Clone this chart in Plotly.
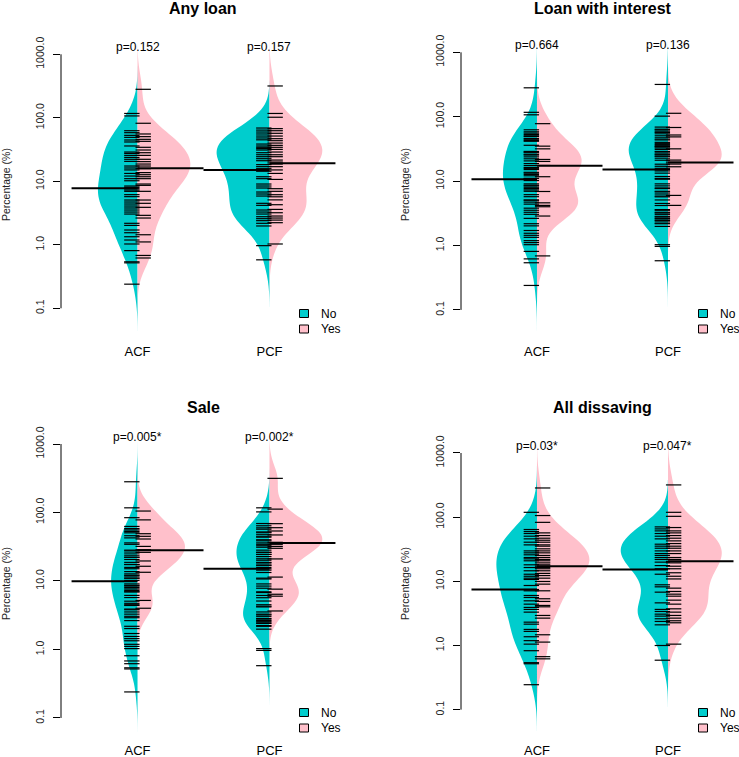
import numpy as np
import plotly.graph_objects as go

# ---------------- data (percentages) ----------------
panel_titles = ["Any loan", "Loan with interest", "Sale", "All dissaving"]
sites = ["ACF", "PCF"]
groups = ["No", "Yes"]
p_values = [["p=0.152", "p=0.157"], ["p=0.664", "p=0.136"],
            ["p=0.005*", "p=0.002*"], ["p=0.03*", "p=0.047*"]]
y_tick_vals = [0.1, 1.0, 10.0, 100.0, 1000.0]
y_tick_text = ["0.1", "1.0", "10.0", "100.0", "1000.0"]

any_loan_acf_no = [117, 107, 62.6, 58.3, 52.9, 49.2, 44.7, 41.6, 36.0, 28.9, 27.5, 25.6, 23.8, 22.2,
                   20.6, 17.4, 16.2, 15.1, 13.3, 12.1, 11.0, 10.2, 8.43, 8.03, 7.65, 7.29, 6.95, 6.16,
                   5.73, 5.07, 4.72, 4.39, 4.08, 3.80, 3.53, 3.28, 3.05, 2.18, 2.02, 1.71, 1.55, 1.34,
                   1.19, 1.03, 0.81, 0.54, 0.52, 0.24]
any_loan_acf_yes = [281, 82, 55.6, 50.5, 45.8, 42.6, 34.3, 31.1, 28.2, 25.6, 22.2, 20.4, 18.7, 17.4,
                    15.8, 13.7, 12.7, 11.8, 11.0, 9.06, 8.63, 6.95, 5.07, 4.50, 3.89, 2.91, 2.64,
                    1.44, 1.11, 0.68, 0.62]
any_loan_pcf_no = [69, 64, 59.7, 55.6, 51.6, 48.1, 45, 38.6, 36.0, 34.3, 32.7, 31.1, 28.2, 26.2, 24.4,
                   22.7, 21.1, 18.3, 17.0, 15.8, 14.4, 11.8, 11.0, 9.06, 8.43, 7.84, 6.78, 6.31, 5.86,
                   4.5, 4.18, 3.53, 3.28, 3.05, 2.77, 2.58, 2.40, 2.18, 1.98, 0.97, 0.58]
any_loan_pcf_yes = [317, 117, 102, 67.5, 62.6, 57, 51.6, 46.9, 43.6, 40, 36.8, 34.3, 31.8, 28.9, 26.2,
                    24.4, 21.6, 20.1, 18.7, 17.0, 15.1, 13.3, 10.7, 7.65, 6.95, 6.15, 5.7, 5.1, 4.28,
                    3.61, 3.2, 2.84, 2.64, 2.45, 2.23, 1.03]

interest_acf_no = [281, 117, 107, 62.6, 58.3, 55.6, 52.9, 50.5, 49.2, 45.8, 44.7, 42.6, 41.6, 36.0,
                   28.9, 28.2, 27.5, 25.6, 25.6, 23.8, 22.2, 20.6, 18.7, 17.4, 16.2, 15.8, 15.1, 13.7,
                   13.3, 12.7, 12.1, 11.0, 11.0, 10.2, 9.06, 8.63, 8.43, 8.03, 7.65, 7.29, 6.95, 6.16,
                   5.73, 5.07, 5.07, 4.72, 4.39, 3.80, 3.53, 3.28, 3.05, 2.64, 2.18, 2.02, 1.71, 1.55,
                   1.44, 1.34, 1.19, 1.11, 1.03, 0.81, 0.62, 0.54, 0.24]
interest_acf_yes = [78, 34.9, 31.7, 21.7, 20.2, 17.5, 11.7, 6.9, 4.6, 4.2, 4.0, 2.87, 0.69]
interest_pcf_no = [317, 102, 69, 64, 62.6, 59.7, 57, 55.6, 51.6, 48.1, 45, 43.6, 40, 38.6, 36.8, 36.0,
                   34.3, 34.3, 32.7, 31.1, 28.9, 28.2, 26.2, 26.2, 24.4, 24.4, 22.7, 21.1, 18.3, 17.0,
                   15.8, 15.1, 14.4, 13.3, 11.8, 11.0, 10.7, 9.06, 8.43, 7.84, 7.65, 6.95, 6.78, 6.31,
                   5.86, 5.7, 5.1, 4.5, 4.18, 3.61, 3.53, 3.28, 3.2, 3.05, 2.84, 2.77, 2.64, 2.58,
                   2.45, 2.40, 2.23, 2.18, 1.98, 1.03, 0.97, 0.58]
interest_pcf_yes = [113, 68, 52, 48.6, 31.7, 21.2, 19.7, 18.4, 16.7, 6.0, 4.2]

sale_acf_no = [281, 117, 84, 62.6, 58.3, 55.6, 52.9, 50.5, 45.8, 42.6, 36.0, 34.3, 28.2, 27.5, 25.6,
               23.8, 22.2, 22.2, 20.6, 18.7, 17.4, 17.4, 15.8, 15.1, 13.7, 12.7, 12.1, 11.8, 11.0,
               11.0, 10.2, 9.06, 8.63, 8.43, 8.03, 7.65, 7.29, 6.95, 6.95, 6.16, 5.73, 5.07, 4.72,
               4.50, 4.39, 3.89, 3.80, 3.53, 3.28, 3.05, 2.91, 2.64, 2.18, 2.02, 1.71, 1.55, 1.44,
               1.34, 1.19, 1.11, 1.03, 0.81, 0.68, 0.62, 0.54, 0.52, 0.24]
sale_acf_yes = [105, 78, 49, 44.9, 41, 32, 28.6, 26.2, 19.6, 16.4, 13.4, 5.2, 4.0]
sale_pcf_no = [117, 102, 69, 64, 59.7, 57, 51.6, 51.6, 48.1, 45, 43.6, 40, 38.6, 36.0, 34.3, 32.7,
               31.1, 28.2, 26.2, 26.2, 24.4, 24.4, 22.7, 21.1, 20.1, 18.7, 18.3, 17.0, 17.0, 15.8,
               15.1, 14.4, 13.3, 11.0, 10.7, 9.06, 8.43, 7.84, 6.95, 6.78, 6.15, 5.7, 5.1, 4.5, 4.28,
               4.18, 3.53, 3.28, 3.2, 3.05, 2.84, 2.77, 2.64, 2.58, 2.45, 2.40, 2.23, 2.18, 1.98,
               1.03, 0.97, 0.58]
sale_pcf_yes = [315, 112, 68.7, 60, 53.7, 47, 36.7, 34.3, 32, 30, 21, 11.4, 7.6, 6.4, 6.0, 3.65]

dissaving_acf_no = [119, 64.2, 59.7, 55.6, 50.5, 45.9, 40.7, 37.0, 29.8, 27.8, 25.9, 23.5, 22.4, 20.9,
                    18.1, 16.4, 14.6, 12.9, 12.0, 11.2, 10.7, 8.61, 7.46, 7.12, 6.02, 5.6, 4.97, 4.41,
                    3.92, 3.65, 3.31, 2.31, 2.15, 1.78, 1.66, 1.37, 1.19, 1.05, 0.83, 0.54, 0.52, 0.245]
dissaving_acf_yes = [285, 106, 83, 56.9, 51.7, 47.0, 43.7, 40.7, 37.0, 35.3, 32.1, 29.8, 27.8, 25.3,
                     23.5, 21.9, 20.9, 19.4, 18.1, 17.2, 16.4, 15.7, 14.6, 13.3, 12.3, 11.2, 9.95,
                     9.04, 7.12, 5.35, 4.86, 4.21, 4.01, 2.94, 2.67, 1.47, 1.13, 0.67, 0.62]
dissaving_pcf_no = [70.5, 65.6, 61.1, 55.6, 50.5, 45.9, 37.9, 35.3, 32.8, 29.8, 27.1, 25.3, 23.5, 21.9,
                    19.9, 17.6, 15.7, 12.9, 8.83, 8.21, 6.78, 4.62, 3.65, 3.39, 3.08, 2.87, 2.61,
                    2.37, 2.10, 1.0, 0.59]
dissaving_pcf_yes = [318, 119, 103, 68.9, 61.1, 56.9, 51.7, 47.0, 42.7, 38.8, 35.3, 32.8, 29.8, 27.1,
                     23.5, 21.9, 20.4, 19.4, 17.2, 15.7, 13.6, 12.0, 10.9, 7.83, 6.95, 6.31, 5.87,
                     5.09, 4.41, 3.73, 3.31, 2.94, 2.67, 2.43, 2.26, 1.05]

# bean lines (group averages): [ACF No, ACF Yes, PCF No, PCF Yes]
any_loan_means = [7.8, 16.0, 15.1, 19.2]
interest_means = [10.7, 17.3, 15.2, 19.5]
sale_means = [9.9, 28.0, 15.1, 35.9]
dissaving_means = [7.45, 17.2, 15.3, 20.6]

panel_data = [
    [[any_loan_acf_no, any_loan_acf_yes], [any_loan_pcf_no, any_loan_pcf_yes]],
    [[interest_acf_no, interest_acf_yes], [interest_pcf_no, interest_pcf_yes]],
    [[sale_acf_no, sale_acf_yes], [sale_pcf_no, sale_pcf_yes]],
    [[dissaving_acf_no, dissaving_acf_yes], [dissaving_pcf_no, dissaving_pcf_yes]],
]
panel_means = [any_loan_means, interest_means, sale_means, dissaving_means]

# ---------------- style / geometry (page pixels) ----------------
FW, FH = 739, 757
TEAL, PINK = "#00CDCD", "#FFC0CB"
FONT = "Liberation Sans, Arial, Helvetica, sans-serif"
bandwidths = [0.25, 0.24, 0.195, 0.245]                 # log10 units
half_widths = [[0.30, 0.40, 0.40, 0.40], [0.26, 0.34, 0.30, 0.41],
               [0.20, 0.36, 0.25, 0.40], [0.31, 0.40, 0.36, 0.41]]
col_px = [(61, 346, [0.42, 2.58]), (461, 739, [0.42, 2.542])]
row_px = [(40, 340), (439, 739)]
y_ranges = [[-1.499, 3.225], [-1.467, 3.191], [-1.307, 3.073], [-1.457, 3.218]]
title_px = [(203.5, 9), (602.5, 9), (203.5, 407), (602.5, 407)]
ylab_px = [(6, 185), (405, 185), (6, 584), (405, 584)]
legend_px = [(304, 313.5), (703, 313.5), (304, 712.5), (703, 712.5)]
RUG_OFF = 0.043
BEAN_LINE = 0.5


def xp(x):
    return x / FW


def yp(y):
    return 1 - y / FH


fig = go.Figure()
layout = dict(width=FW, height=FH, margin=dict(l=0, r=0, t=0, b=0, pad=0, autoexpand=False),
              paper_bgcolor="white", plot_bgcolor="white", showlegend=False,
              font=dict(family=FONT, color="black"))
annotations, shapes = [], []

for i in range(4):
    r, c = divmod(i, 2)
    sfx = "" if i == 0 else str(i + 1)
    xa, ya = "x" + sfx, "y" + sfx
    x0, x1, xr = col_px[c]
    top, bot = row_px[r]
    layout["xaxis" + sfx] = dict(domain=[xp(x0), xp(x1)], range=xr, anchor=ya, automargin=False,
                                 tickvals=[1, 2], ticktext=sites, ticks="", showline=False,
                                 showgrid=False, zeroline=False, tickfont=dict(size=13),
                                 ticklabelstandoff=2, fixedrange=True)
    layout["yaxis" + sfx] = dict(domain=[yp(bot), yp(top)], range=y_ranges[i], anchor=xa,
                                 automargin=False, fixedrange=True,
                                 tickvals=list(np.log10(y_tick_vals)), ticktext=y_tick_text,
                                 ticks="outside", ticklen=7, tickwidth=1, tickcolor="black",
                                 tickangle=-90, showline=False, showgrid=False, zeroline=False,
                                 tickfont=dict(size=10.5, color="#222"), ticklabelstandoff=5)
    bw = bandwidths[i]
    for j in range(2):
        pos = j + 1
        for g in range(2):
            vals = np.log10(np.array(panel_data[i][j][g], dtype=float))
            fig.add_trace(go.Violin(
                x0=pos, y=vals, side="negative" if g == 0 else "positive",
                width=2 * half_widths[i][2 * j + g], scalemode="width",
                bandwidth=bw, spanmode="manual", span=[vals.min() - 3 * bw, vals.max() + 3 * bw],
                fillcolor=TEAL if g == 0 else PINK, line=dict(width=0, color=TEAL if g == 0 else PINK),
                points=False, box=dict(visible=False), meanline=dict(visible=False),
                hoverinfo="skip", xaxis=xa, yaxis=ya, name=f"{sites[j]} {groups[g]}"))
        for g in range(2):
            vals = np.log10(np.array(panel_data[i][j][g], dtype=float))
            off = -RUG_OFF if g == 0 else RUG_OFF
            fig.add_trace(go.Scatter(
                x=[pos + off] * len(vals), y=vals, mode="markers",
                marker=dict(symbol="line-ew", size=11, color="black",
                            line=dict(width=1.2, color="black")),
                hoverinfo="skip", xaxis=xa, yaxis=ya))
        for g in range(2):
            m = np.log10(panel_means[i][2 * j + g])
            xs = [pos - BEAN_LINE, pos] if g == 0 else [pos, pos + BEAN_LINE]
            fig.add_trace(go.Scatter(x=xs, y=[m, m], mode="lines",
                                     line=dict(color="black", width=2),
                                     hoverinfo="skip", xaxis=xa, yaxis=ya))
        annotations.append(dict(x=pos, y=np.log10(1000), xref=xa, yref=ya, text=p_values[i][j],
                                showarrow=False, yanchor="bottom", xanchor="center", yshift=-2,
                                font=dict(size=12)))
    # y axis line spanning 0.1 .. 1000
    shapes.append(dict(type="line", xref=xa + " domain", yref=ya, x0=0, x1=0,
                       y0=np.log10(y_tick_vals[0]), y1=np.log10(y_tick_vals[-1]),
                       line=dict(color="black", width=1)))
    tx, ty = title_px[i]
    annotations.append(dict(x=xp(tx), y=yp(ty), xref="paper", yref="paper",
                            text="<b>" + panel_titles[i] + "</b>", showarrow=False,
                            xanchor="center", yanchor="middle", font=dict(size=16)))
    lx, ly = ylab_px[i]
    annotations.append(dict(x=xp(lx), y=yp(ly), xref="paper", yref="paper",
                            text="Percentage (%)", textangle=-90, showarrow=False,
                            xanchor="center", yanchor="middle", font=dict(size=10.5, color="#222")))
    gx, gy = legend_px[i]
    for g, col in enumerate([TEAL, PINK]):
        cy = gy + g * 15.5
        shapes.append(dict(type="rect", xref="paper", yref="paper",
                           x0=xp(gx - 4.5), x1=xp(gx + 4.5), y0=yp(cy + 4), y1=yp(cy - 4),
                           fillcolor=col, line=dict(color="black", width=1)))
        annotations.append(dict(x=xp(gx + 15), y=yp(cy), xref="paper", yref="paper",
                                text=groups[g], showarrow=False, xanchor="left",
                                yanchor="middle", font=dict(size=12)))

layout["annotations"] = annotations
layout["shapes"] = shapes
layout["violinmode"] = "overlay"
fig.update_layout(**layout)
fig.write_html("out.html", include_plotlyjs=True,
               config={"displayModeBar": False, "staticPlot": True},
               post_script="document.body.style.margin='0px';document.body.style.overflow='hidden';")
